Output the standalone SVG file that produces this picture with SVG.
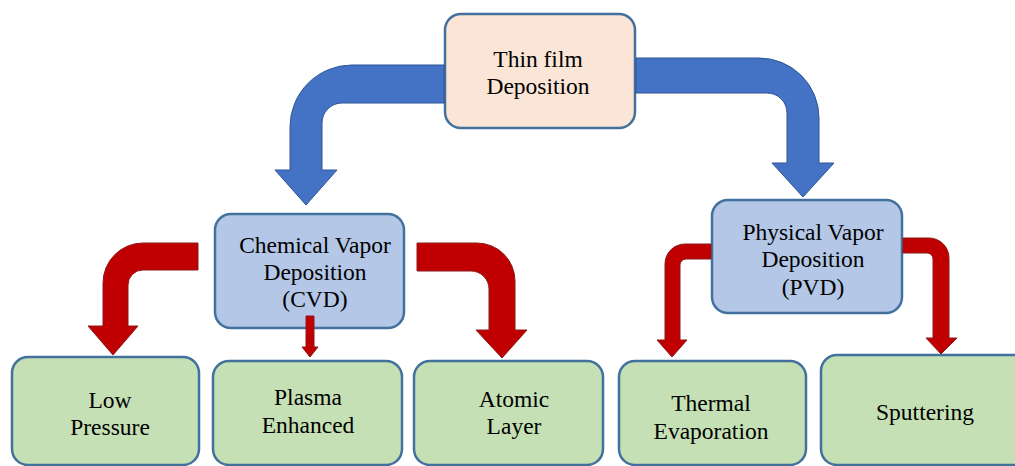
<svg xmlns="http://www.w3.org/2000/svg" width="1015" height="466" viewBox="0 0 1015 466">
<style>
.box{stroke:#41719C;stroke-width:2.5}
.peach{fill:#FBE5D6}
.blue{fill:#B4C7E7}
.green{fill:#C5E0B4}
.ba{fill:#4472C4;stroke:#2F5597;stroke-width:1}
.ra{fill:#C00000;stroke:#8B1A1A;stroke-width:1}
</style>
<rect width="1015" height="466" fill="#FFFFFF"/>
<g id="nodes" font-family="'Liberation Serif', 'Times New Roman', 'DejaVu Serif', serif" font-size="23.5" fill="#000000" text-anchor="middle">
<g id="thin-film"><rect class="box peach" x="445" y="14" width="190" height="114" rx="16"/><text x="538" y="67">Thin film</text><text x="538" y="94">Deposition</text></g>
<g id="cvd"><rect class="box blue" x="215" y="214" width="189" height="114" rx="16"/><text x="315" y="253">Chemical Vapor</text><text x="315" y="280">Deposition</text><text x="315" y="307">(CVD)</text></g>
<g id="pvd"><rect class="box blue" x="712" y="200" width="190" height="113" rx="16"/><text x="813" y="240">Physical Vapor</text><text x="813" y="267">Deposition</text><text x="813" y="295">(PVD)</text></g>
<g id="low-pressure"><rect class="box green" x="12" y="357" width="187" height="108" rx="16"/><text x="110" y="408">Low</text><text x="110" y="435">Pressure</text></g>
<g id="plasma"><rect class="box green" x="213" y="361" width="189" height="104" rx="16"/><text x="308" y="405">Plasma</text><text x="308" y="433">Enhanced</text></g>
<g id="atomic"><rect class="box green" x="414" y="361" width="189" height="104" rx="16"/><text x="514" y="407">Atomic</text><text x="514" y="434">Layer</text></g>
<g id="thermal"><rect class="box green" x="619" y="361" width="187" height="104" rx="16"/><text x="711" y="411">Thermal</text><text x="711" y="439">Evaporation</text></g>
<g id="sputtering"><rect class="box green" x="821" y="355" width="210" height="110" rx="16"/><text x="925" y="420">Sputtering</text></g>
</g>
<g id="connectors">
<path class="ba" d="M 444,65 L 352,65 A 62 62 0 0 0 290,127 L 290,170 L 275,170 L 306,205 L 337,170 L 322,170 L 322,123 A 20 20 0 0 1 342,103 L 444,103 Z"/>
<path class="ba" d="M 636,58 L 759,58 A 60 60 0 0 1 819,118 L 819,163 L 834,163 L 803,197 L 772,163 L 787,163 L 787,113 A 20 20 0 0 0 767,93 L 636,93 Z"/>
<path class="ra" d="M 198,243 L 143,243 A 40 40 0 0 0 103,283 L 103,326 L 88,326 L 113,355 L 138,326 L 128,326 L 128,285 A 15 15 0 0 1 143,270 L 198,270 Z"/>
<path class="ra" d="M 417,243 L 477,243 A 38 38 0 0 1 515,281 L 515,330 L 527,330 L 502,358 L 476,330 L 489,330 L 489,289 A 18 18 0 0 0 471,271 L 417,271 Z"/>
<path class="ra" d="M 306,316 L 314,316 L 314,347 L 318,347 L 310,357 L 302,347 L 306,347 Z"/>
<path class="ra" d="M 711,244 L 685,244 A 20 20 0 0 0 665,264 L 665,340 L 657,340 L 672,357 L 687,340 L 680,340 L 680,265 A 6 6 0 0 1 686,259 L 711,259 Z"/>
<path class="ra" d="M 903,238 L 929,238 A 20 20 0 0 1 949,258 L 949,338 L 957,338 L 941,354 L 926,338 L 933,338 L 933,259 A 6 6 0 0 0 927,253 L 903,253 Z"/>
</g>
</svg>
